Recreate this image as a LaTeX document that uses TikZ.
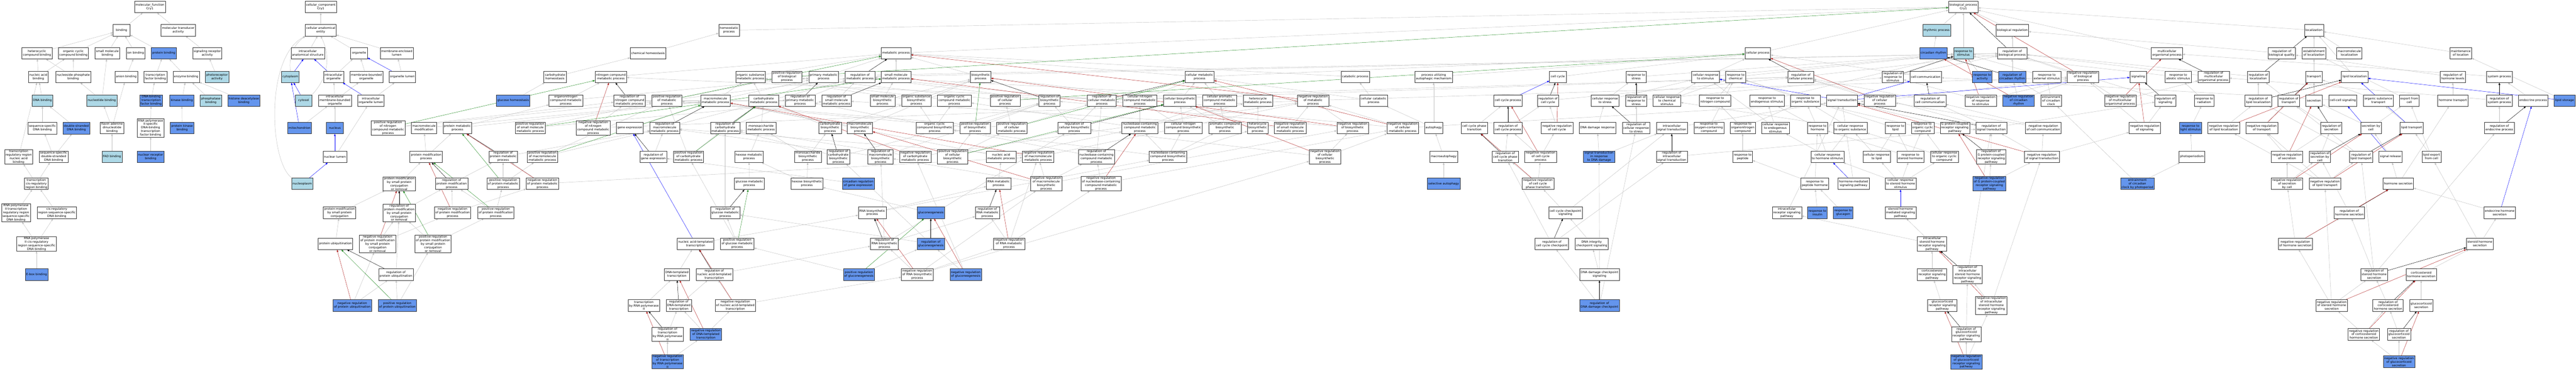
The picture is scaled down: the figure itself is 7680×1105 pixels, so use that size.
\documentclass[tikz,border=0pt]{standalone}
\usepackage{fontspec}
\setmainfont{DejaVu Sans}
\usetikzlibrary{arrows.meta}
\definecolor{lightb}{RGB}{173,216,230}
\definecolor{cornf}{RGB}{100,149,237}
\definecolor{edgegray}{RGB}{192,192,192}
\definecolor{redge}{RGB}{178,34,34}
\definecolor{gedge}{RGB}{34,139,34}
\pgfdeclarelayer{bg}
\pgfsetlayers{bg,main}
\tikzset{
 gon/.style={draw=black!80, line width=0.8pt, fill=white, font=\fontsize{9}{10.6}\selectfont, align=center, inner xsep=3pt, inner ysep=1.5pt, minimum height=34.5pt, minimum width=50pt},
 lbn/.style={gon, fill=lightb},
 cbn/.style={gon, fill=cornf},
 edg/.style={draw=edgegray, line width=0.7pt, -{Triangle[length=6.5pt,width=5pt]}},
 edk/.style={edg, draw=black},
 edr/.style={edg, draw=redge},
 edn/.style={edg, draw=gedge},
 edb/.style={edg, draw=blue},
 pan/.style={x=0.408163pt, y=-0.704722pt}
}
\begin{document}
\begin{tikzpicture}[x=1pt,y=-1pt]
\useasboundingbox (0,0) rectangle (7680,1105);
% ---------- panel 1
\begin{scope}[pan]
\node[gon] (mf) at (1095,29) {molecular\_function\\Cry1};
\node[gon] (binding) at (888,128) {binding};
\node[gon] (moltrans) at (1302,128) {molecular transducer\\activity};
\node[gon] (hetcyc) at (270,225) {heterocyclic\\compound binding};
\node[gon] (orgcyc) at (536,225) {organic cyclic\\compound binding};
\node[gon] (smallmol) at (784,225) {small molecule\\binding};
\node[gon] (ionbind) at (990,225) {ion binding};
\node[cbn] (protbind) at (1196,225) {protein binding};
\node[gon] (sigrec) at (1514,225) {signaling receptor\\activity};
\node[gon] (nucacid) at (280,325) {nucleic acid\\binding};
\node[gon] (nucphos) at (535,325) {nucleoside phosphate\\binding};
\node[gon] (anion) at (922,325) {anion binding};
\node[gon] (tfbind) at (1135,325) {transcription\\factor binding};
\node[gon] (enzyme) at (1360,325) {enzyme binding};
\node[lbn] (photorec) at (1585,325) {photoreceptor\\activity};
\node[lbn] (dnabind) at (310,425) {DNA binding};
\node[lbn] (nucleotide) at (744,425) {nucleotide binding};
\node[cbn] (dnabtf) at (1104,425) {DNA-binding\\transcription\\factor binding};
\node[cbn] (kinase) at (1328,425) {kinase binding};
\node[lbn] (phosphatase) at (1540,425) {phosphatase\\binding};
\node[gon] (seqdna) at (310,542) {sequence-specific\\DNA binding};
\node[cbn] (dsdna) at (558,542) {double-stranded\\DNA binding};
\node[gon] (fad) at (818,541) {flavin adenine\\dinucleotide\\binding};
\node[gon] (rnapol2tf) at (1100,541) {RNA polymerase\\II-specific\\DNA-binding\\transcription\\factor binding};
\node[cbn] (protkin) at (1330,541) {protein kinase\\binding};
\node[gon] (trreg) at (136,663) {transcription\\regulatory region\\nucleic acid\\binding};
\node[gon] (seqds) at (392,663) {sequence-specific\\double-stranded\\DNA binding};
\node[lbn] (fadbind) at (818,663) {FAD binding};
\node[cbn] (nucrec) at (1100,663) {nuclear receptor\\binding};
\node[gon] (tcis) at (265,777) {transcription\\cis-regulatory\\region binding};
\node[gon] (rnap2trr) at (117,900) {RNA polymerase\\II transcription\\regulatory region\\sequence-specific\\DNA binding};
\node[gon] (cisreg) at (415,900) {cis-regulatory\\region sequence-specific\\DNA binding};
\node[gon] (rnap2cis) at (267,1031) {RNA polymerase\\II cis-regulatory\\region sequence-specific\\DNA binding};
\node[cbn] (ebox) at (267,1161) {E-box binding};
\end{scope}
% ---------- panel 2
\begin{scope}[xshift=640pt,pan]
\node[cbn] (histone) at (213,425) {histone deacetylase\\binding};
\node[gon] (cc) at (775,29) {cellular\_component\\Cry1};
\node[gon] (cae) at (775,128) {cellular anatomical\\entity};
\node[gon] (ias) at (680,225) {intracellular\\anatomical structure};
\node[gon] (organelle) at (1055,225) {organelle};
\node[gon] (mel) at (1330,225) {membrane-enclosed\\lumen};
\node[lbn] (cytoplasm) at (553,325) {cytoplasm};
\node[gon] (intorg) at (868,325) {intracellular\\organelle};
\node[gon] (mbo) at (1108,325) {membrane-bounded\\organelle};
\node[gon] (orglumen) at (1371,325) {organelle lumen};
\node[lbn] (cytosol) at (650,425) {cytosol};
\node[gon] (imbo) at (878,425) {intracellular\\membrane-bounded\\organelle};
\node[gon] (iol) at (1141,425) {intracellular\\organelle lumen};
\node[cbn] (mito) at (620,541) {mitochondrion};
\node[cbn] (nucleus) at (878,541) {nucleus};
\node[gon] (posnit) at (1266,541) {positive regulation\\of nitrogen\\compound metabolic\\process};
\node[gon] (macromod) at (1529,541) {macromolecule\\modification};
\node[gon] (nuclumen) at (878,663) {nuclear lumen};
\node[gon] (protmodproc) at (1545,663) {protein modification\\process};
\node[lbn] (nucleoplasm) at (640,777) {nucleoplasm};
\node[gon] (pmsp) at (1348,777) {protein modification\\by small protein\\conjugation\\or removal};
\node[gon] (pmspc) at (912,900) {protein modification\\by small protein\\conjugation};
\node[gon] (regpmsp) at (1348,900) {regulation of\\protein modification\\by small protein\\conjugation\\or removal};
\node[gon] (protubi) at (882,1031) {protein ubiquitination};
\node[gon] (negpmsp) at (1190,1031) {negative regulation\\of protein modification\\by small protein\\conjugation\\or removal};
\node[gon] (pospmsp) at (1595,1031) {positive regulation\\of protein modification\\by small protein\\conjugation\\or removal};
\node[gon] (regubi) at (1324,1161) {regulation of\\protein ubiquitination};
\node[cbn] (negubi) at (1005,1292) {negative regulation\\of protein ubiquitination};
\node[cbn] (posubi) at (1334,1292) {positive regulation\\of protein ubiquitination};
\end{scope}
% ---------- panel 3
\begin{scope}[xshift=1280pt,pan]
\node[gon] (chemhomeo) at (1597,225) {chemical homeostasis};
\node[gon] (carbhomeo) at (918,325) {carbohydrate\\homeostasis};
\node[gon] (nitcomp) at (1326,325) {nitrogen compound\\metabolic process};
\node[cbn] (glucosehomeo) at (612,425) {glucose homeostasis};
\node[gon] (orgnit) at (997,425) {organonitrogen\\compound metabolic\\process};
\node[gon] (regnit) at (1462,425) {regulation of\\nitrogen compound\\metabolic process};
\node[gon] (protmeta) at (205,541) {protein metabolic\\process};
\node[gon] (possmall) at (737,541) {positive regulation\\of small molecule\\metabolic process};
\node[gon] (negnit) at (1197,541) {negative regulation\\of nitrogen\\compound metabolic\\process};
\node[gon] (geneexp) at (1465,541) {gene expression};
\node[gon] (regprotmeta) at (539,663) {regulation of\\protein metabolic\\process};
\node[gon] (posmacro) at (826,663) {positive regulation\\of macromolecule\\metabolic process};
\node[gon] (reggene) at (1636,663) {regulation of\\gene expression};
\node[gon] (regprotmod) at (163,777) {regulation of\\protein modification\\process};
\node[gon] (posprotmeta) at (539,777) {positive regulation\\of protein metabolic\\process};
\node[gon] (negprotmeta) at (826,777) {negative regulation\\of protein metabolic\\process};
\node[gon] (negprotmod) at (170,900) {negative regulation\\of protein modification\\process};
\node[gon] (posprotmod) at (486,900) {positive regulation\\of protein modification\\process};
\node[gon] (trpol2) at (1567,1292) {transcription\\by RNA polymerase\\II};
\end{scope}
% ---------- panel 4
\begin{scope}[xshift=1920pt,pan]
\node[gon] (homeo) at (621,128) {homeostatic\\process};
\node[gon] (orgsub) at (778,325) {organic substance\\metabolic process};
\node[gon] (posbio) at (1044,325) {positive regulation\\of biological\\process};
\node[gon] (primary) at (1312,325) {primary metabolic\\process};
\node[gon] (regmeta) at (1578,325) {regulation of\\metabolic process};
\node[gon] (posmeta) at (167,425) {positive regulation\\of metabolic\\process};
\node[gon] (macrometa) at (522,425) {macromolecule\\metabolic process};
\node[gon] (carbmeta) at (874,425) {carbohydrate\\metabolic process};
\node[gon] (regprim) at (1140,425) {regulation of\\primary metabolic\\process};
\node[gon] (regsmall) at (1406,425) {regulation of\\small molecule\\metabolic process};
\node[gon] (regmacro) at (151,541) {regulation of\\macromolecule\\metabolic process};
\node[gon] (regcarb) at (593,541) {regulation of\\carbohydrate\\metabolic process};
\node[gon] (monometa) at (855,541) {monosaccharide\\metabolic process};
\node[gon] (carbbio) at (1359,541) {carbohydrate\\biosynthetic\\process};
\node[gon] (macrobio) at (1577,541) {macromolecule\\biosynthetic\\process};
\node[gon] (poscarb) at (325,663) {positive regulation\\of carbohydrate\\metabolic process};
\node[gon] (hexmeta) at (767,663) {hexose metabolic\\process};
\node[gon] (monobio) at (1197,663) {monosaccharide\\biosynthetic\\process};
\node[gon] (regcarbbio) at (1420,663) {regulation of\\carbohydrate\\biosynthetic\\process};
\node[gon] (glucmeta) at (769,777) {glucose metabolic\\process};
\node[gon] (hexbio) at (1190,777) {hexose biosynthetic\\process};
\node[cbn] (circgene) at (1565,777) {circadian regulation\\of gene expression};
\node[gon] (regglucmeta) at (593,900) {regulation of\\glucose metabolic\\process};
\node[gon] (rnabio) at (1667,900) {RNA biosynthetic\\process};
\node[gon] (nuctrans) at (377,1031) {nucleic acid-templated\\transcription};
\node[gon] (posglucmeta) at (681,1031) {positive regulation\\of glucose metabolic\\process};
\node[gon] (dnatrans) at (240,1161) {DNA-templated\\transcription};
\node[gon] (regnuctrans) at (513,1161) {regulation of\\nucleic acid-templated\\transcription};
\node[cbn] (posgluco) at (1570,1161) {positive regulation\\of gluconeogenesis};
\node[gon] (regdnatrans) at (254,1292) {regulation of\\DNA-templated\\transcription};
\node[gon] (negnuctrans) at (667,1292) {negative regulation\\of nucleic acid-templated\\transcription};
\node[gon] (regtrpol2) at (172,1414) {regulation of\\transcription\\by RNA polymerase\\II};
\node[cbn] (negdnatrans) at (452,1414) {negative regulation\\of DNA-templated\\transcription};
\node[cbn] (negtrpol2) at (172,1530) {negative regulation\\of transcription\\by RNA polymerase\\II};
\end{scope}
% ---------- panel 5
\begin{scope}[xshift=2560pt,pan]
\node[gon] (metabolic) at (273,225) {metabolic process};
\node[gon] (smallmeta) at (273,325) {small molecule\\metabolic process};
\node[gon] (biosyn) at (891,325) {biosynthetic\\process};
\node[gon] (smallbio) at (174,425) {small molecule\\biosynthetic\\process};
\node[gon] (orgsubbio) at (421,425) {organic substance\\biosynthetic\\process};
\node[gon] (orgcycmeta) at (699,425) {organic cyclic\\compound metabolic\\process};
\node[gon] (poscell) at (1070,425) {positive regulation\\of cellular\\process};
\node[gon] (regbiosyn) at (1394,425) {regulation of\\biosynthetic\\process};
\node[gon] (orgcycbio) at (555,541) {organic cyclic\\compound biosynthetic\\process};
\node[gon] (posbiosyn) at (850,541) {positive regulation\\of biosynthetic\\process};
\node[gon] (poscellmeta) at (1118,541) {positive regulation\\of cellular\\metabolic process};
\node[gon] (regcellbio) at (1575,541) {regulation of\\cellular biosynthetic\\process};
\node[gon] (regmacrobio) at (160,663) {regulation of\\macromolecule\\biosynthetic\\process};
\node[gon] (negcarb) at (413,663) {negative regulation\\of carbohydrate\\metabolic process};
\node[gon] (poscellbio) at (686,663) {positive regulation\\of cellular\\biosynthetic\\process};
\node[gon] (nucacidmeta) at (1041,663) {nucleic acid\\metabolic process};
\node[gon] (negmacro) at (1311,663) {negative regulation\\of macromolecule\\metabolic process};
\node[gon] (rnameta) at (1022,777) {RNA metabolic\\process};
\node[gon] (negmacrobio) at (1370,777) {negative regulation\\of macromolecule\\biosynthetic\\process};
\node[cbn] (gluconeo) at (527,900) {gluconeogenesis};
\node[gon] (regrnameta) at (940,900) {regulation of\\RNA metabolic\\process};
\node[gon] (regrnabio) at (188,1031) {regulation of\\RNA biosynthetic\\process};
\node[cbn] (reggluco) at (527,1031) {regulation of\\gluconeogenesis};
\node[gon] (negrnameta) at (1098,1031) {negative regulation\\of RNA metabolic\\process};
\node[gon] (negrnabio) at (428,1161) {negative regulation\\of RNA biosynthetic\\process};
\node[cbn] (neggluco) at (782,1161) {negative regulation\\of gluconeogenesis};
\end{scope}
% ---------- panel 6
\begin{scope}[xshift=3200pt,pan]
\node[gon] (cellmeta) at (922,325) {cellular metabolic\\process};
\node[gon] (regcellmeta) at (208,425) {regulation of\\cellular metabolic\\process};
\node[gon] (cellnit) at (486,425) {cellular nitrogen\\compound metabolic\\process};
\node[gon] (cellbio) at (778,425) {cellular biosynthetic\\process};
\node[gon] (cellarom) at (1068,425) {cellular aromatic\\compound metabolic\\process};
\node[gon] (hetmeta) at (1348,425) {heterocycle\\metabolic process};
\node[gon] (nucbase) at (486,541) {nucleobase-containing\\compound metabolic\\process};
\node[gon] (cellnitbio) at (804,541) {cellular nitrogen\\compound biosynthetic\\process};
\node[gon] (arombio) at (1107,541) {aromatic compound\\biosynthetic\\process};
\node[gon] (hetbio) at (1346,541) {heterocycle\\biosynthetic\\process};
\node[gon] (negsmall) at (1584,541) {negative regulation\\of small molecule\\metabolic process};
\node[gon] (regnucbase) at (169,663) {regulation of\\nucleobase-containing\\compound metabolic\\process};
\node[gon] (nucbasebio) at (691,663) {nucleobase-containing\\compound biosynthetic\\process};
\node[gon] (negnucbase) at (202,777) {negative regulation\\of nucleobase-containing\\compound metabolic\\process};
\end{scope}
% ---------- panel 7
\begin{scope}[xshift=3840pt,pan]
\node[gon] (catabolic) at (491,325) {catabolic process};
\node[gon] (autophmech) at (1064,325) {process utilizing\\autophagic mechanism};
\node[gon] (negmeta) at (183,425) {negative regulation\\of metabolic\\process};
\node[gon] (cellcat) at (625,425) {cellular catabolic\\process};
\node[gon] (cellcycproc) at (1607,425) {cell cycle process};
\node[gon] (negbiosyn) at (472,541) {negative regulation\\of biosynthetic\\process};
\node[gon] (negcellmeta) at (838,541) {negative regulation\\of cellular\\metabolic process};
\node[gon] (autophagy) at (1064,541) {autophagy};
\node[gon] (ccpt) at (1361,541) {cell cycle phase\\transition};
\node[gon] (regccp) at (1607,541) {regulation of\\cell cycle process};
\node[gon] (negcellbio) at (270,663) {negative regulation\\of cellular\\biosynthetic\\process};
\node[gon] (macroauto) at (1137,663) {macroautophagy};
\node[gon] (regccpt) at (1587,663) {regulation of\\cell cycle phase\\transition};
\node[cbn] (selauto) at (1137,777) {selective autophagy};
\end{scope}
% ---------- panel 8
\begin{scope}[xshift=4480pt,pan]
\node[gon] (cellcycle) at (403,325) {cell cycle};
\node[gon] (respstress) at (975,325) {response to\\stress};
\node[gon] (cellrespstim) at (1482,325) {cellular response\\to stimulus};
\node[gon] (regcellcycle) at (331,425) {regulation of\\cell cycle};
\node[gon] (cellrespstress) at (748,425) {cellular response\\to stress};
\node[gon] (regrespstress) at (975,425) {regulation of\\response to\\stress};
\node[gon] (cellrespchem) at (1200,425) {cellular response\\to chemical\\stimulus};
\node[gon] (respnit) at (1552,425) {response to\\nitrogen compound};
\node[gon] (negcellcycle) at (397,541) {negative regulation\\of cell cycle};
\node[gon] (dnadamage) at (692,541) {DNA damage response};
\node[gon] (regcellrespstress) at (975,541) {regulation of\\cellular response\\to stress};
\node[gon] (intrasig) at (1235,541) {intracellular\\signal transduction};
\node[gon] (respoxy) at (1506,541) {response to\\oxygen-containing\\compound};
\node[gon] (negccp) at (277,663) {negative regulation\\of cell cycle\\process};
\node[cbn] (sigdna) at (704,663) {signal transduction\\in response\\to DNA damage};
\node[gon] (regintrasig) at (1235,663) {regulation of\\intracellular\\signal transduction};
\node[gon] (negccpt) at (258,777) {negative regulation\\of cell cycle\\phase transition};
\node[gon] (ccchk) at (458,900) {cell cycle checkpoint\\signaling};
\node[gon] (regccchk) at (359,1031) {regulation of\\cell cycle checkpoint};
\node[gon] (dnaint) at (650,1031) {DNA integrity\\checkpoint signaling};
\node[gon] (dnadmgchk) at (707,1161) {DNA damage checkpoint\\signaling};
\node[cbn] (regdnadmg) at (707,1292) {regulation of\\DNA damage checkpoint};
\end{scope}
% ---------- panel 9
\begin{scope}[xshift=5120pt,pan]
\node[gon] (cellproc) at (295,225) {cellular process};
\node[lbn] (rhythmic) at (1602,128) {rhythmic process};
\node[cbn] (circrhythm) at (1578,225) {circadian rhythm};
\node[gon] (respchem) at (133,325) {response to\\chemical};
\node[gon] (regcellproc) at (610,325) {regulation of\\cellular process};
\node[gon] (regrespstim) at (1282,325) {regulation of\\response to\\stimulus};
\node[gon] (cellcomm) at (1522,325) {cell communication};
\node[gon] (respendo) at (363,425) {response to\\endogenous stimulus};
\node[gon] (resporg) at (643,425) {response to\\organic substance};
\node[gon] (sigtrans) at (910,425) {signal transduction};
\node[gon] (negcellproc) at (1186,425) {negative regulation\\of cellular\\process};
\node[gon] (regcellcomm) at (1554,425) {regulation of\\cell communication};
\node[gon] (resporgnit) at (185,541) {response to\\organonitrogen\\compound};
\node[gon] (cellrespendo) at (424,541) {cellular response\\to endogenous\\stimulus};
\node[gon] (resphormone) at (732,541) {response to\\hormone};
\node[gon] (cellresporg) at (971,541) {cellular response\\to organic substance};
\node[gon] (resplipid) at (1300,541) {response to\\lipid};
\node[gon] (resporgcyc) at (1500,541) {response to\\organic cyclic\\compound};
\node[gon] (resppeptide) at (185,663) {response to\\peptide};
\node[gon] (cellresphorm) at (804,663) {cellular response\\to hormone stimulus};
\node[gon] (cellresplipid) at (1164,663) {cellular response\\to lipid};
\node[gon] (respsteroid) at (1410,663) {response to\\steroid hormone};
\node[gon] (cellresporgcyc) at (1658,663) {cellular response\\to organic cyclic\\compound};
\node[gon] (resppephorm) at (712,777) {response to\\peptide hormone};
\node[gon] (hormsig) at (995,777) {hormone-mediated\\signaling pathway};
\node[gon] (cellrespsteroid) at (1338,777) {cellular response\\to steroid hormone\\stimulus};
\node[gon] (intrarec) at (508,900) {intracellular\\receptor signaling\\pathway};
\node[cbn] (respinsulin) at (731,900) {response to\\insulin};
\node[cbn] (respglucagon) at (919,900) {response to\\glucagon};
\node[gon] (steroidsig) at (1338,900) {steroid hormone\\mediated signaling\\pathway};
\node[gon] (intrasteroid) at (1568,1031) {intracellular\\steroid hormone\\receptor signaling\\pathway};
\node[gon] (corticorec) at (1568,1161) {corticosteroid\\receptor signaling\\pathway};
\node[gon] (glucorec) at (1643,1292) {glucocorticoid\\receptor signaling\\pathway};
\end{scope}
% ---------- panel 10
\begin{scope}[xshift=5760pt,pan]
\node[gon] (bp) at (229,29) {biological\_process\\Cry1};
\node[gon] (bioreg) at (586,128) {biological regulation};
\node[lbn] (respstim) at (229,225) {response to\\stimulus};
\node[gon] (regbioproc) at (586,225) {regulation of\\biological process};
\node[cbn] (respactivity) at (367,325) {response to\\activity};
\node[cbn] (regcirc) at (586,325) {regulation of\\circadian rhythm};
\node[gon] (respext) at (838,325) {response to\\external stimulus};
\node[gon] (negbioproc) at (1103,325) {negative regulation\\of biological\\process};
\node[gon] (signaling) at (1506,325) {signaling};
\node[gon] (negresp) at (355,425) {negative regulation\\of response\\to stimulus};
\node[cbn] (negcirc) at (632,425) {negative regulation\\of circadian\\rhythm};
\node[gon] (entrain) at (870,425) {entrainment\\of circadian\\clock};
\node[gon] (negmulti) at (1375,425) {negative regulation\\of multicellular\\organismal process};
\node[gon] (gpcr) at (167,541) {G protein-coupled\\receptor signaling\\pathway};
\node[gon] (regsigtrans) at (433,541) {regulation of\\signal transduction};
\node[gon] (negcellcomm) at (813,541) {negative regulation\\of cell communication};
\node[gon] (negsignaling) at (1554,541) {negative regulation\\of signaling};
\node[gon] (reggpcr) at (432,663) {regulation of\\G protein-coupled\\receptor signaling\\pathway};
\node[gon] (negsigtrans) at (802,663) {negative regulation\\of signal transduction};
\node[cbn] (neggpcr) at (419,777) {negative regulation\\of G protein-coupled\\receptor signaling\\pathway};
\node[cbn] (entrainphoto) at (1500,777) {entrainment\\of circadian\\clock by photoperiod};
\node[gon] (regintrasteroid) at (259,1161) {regulation of\\intracellular\\steroid hormone\\receptor signaling\\pathway};
\node[gon] (negintrasteroid) at (433,1292) {negative regulation\\of intracellular\\steroid hormone\\receptor signaling\\pathway};
\node[gon] (regglucorec) at (250,1414) {regulation of\\glucocorticoid\\receptor signaling\\pathway};
\node[cbn] (negglucorec) at (250,1530) {negative regulation\\of glucocorticoid\\receptor signaling\\pathway};
\end{scope}
% ---------- panel 11
\begin{scope}[xshift=6400pt,pan]
\node[gon] (localization) at (1222,128) {localization};
\node[gon] (multicell) at (148,225) {multicellular\\organismal process};
\node[gon] (regbioqual) at (986,225) {regulation of\\biological quality};
\node[gon] (estloc) at (1222,225) {establishment\\of localization};
\node[gon] (macroloc) at (1480,225) {macromolecule\\localization};
\node[gon] (respabiotic) at (230,325) {response to\\abiotic stimulus};
\node[gon] (regmulti) at (489,325) {regulation of\\multicellular\\organismal process};
\node[gon] (regloc) at (815,325) {regulation of\\localization};
\node[gon] (transport) at (1222,325) {transport};
\node[gon] (lipidloc) at (1519,325) {lipid localization};
\node[gon] (regsignaling) at (136,425) {regulation of\\signaling};
\node[gon] (respradiation) at (420,425) {response to\\radiation};
\node[gon] (reglipidloc) at (815,425) {regulation of\\lipid localization};
\node[gon] (regtransport) at (1037,425) {regulation of\\transport};
\node[gon] (secretion) at (1222,425) {secretion};
\node[gon] (cellcellsig) at (1433,425) {cell-cell signaling};
\node[cbn] (resplight) at (320,541) {response to\\light stimulus};
\node[gon] (neglipidloc) at (563,541) {negative regulation\\of lipid localization};
\node[gon] (negtransport) at (841,541) {negative regulation\\of transport};
\node[gon] (regsecretion) at (1348,541) {regulation of\\secretion};
\node[gon] (secbycell) at (1638,541) {secretion by\\cell};
\node[gon] (photoperiodism) at (330,663) {photoperiodism};
\node[gon] (negsecretion) at (1025,663) {negative regulation\\of secretion};
\node[gon] (regsecbycell) at (1265,663) {regulation of\\secretion by\\cell};
\node[gon] (reglipidtrans) at (1566,663) {regulation of\\lipid transport};
\node[gon] (negsecbycell) at (1025,777) {negative regulation\\of secretion\\by cell};
\node[gon] (neglipidtrans) at (1302,777) {negative regulation\\of lipid transport};
\node[gon] (reghormsec) at (1480,900) {regulation of\\hormone secretion};
\node[gon] (neghormsec) at (1086,1031) {negative regulation\\of hormone secretion};
\node[gon] (regsteroidsec) at (1661,1161) {regulation of\\steroid hormone\\secretion};
\node[gon] (negsteroidsec) at (1351,1292) {negative regulation\\of steroid hormone\\secretion};
\node[gon] (negcortsec) at (1586,1414) {negative regulation\\of corticosteroid\\hormone secretion};
\end{scope}
% ---------- panel 12
\begin{scope}[xshift=7040pt,pan]
\node[gon] (maintloc) at (726,225) {maintenance\\of location};
\node[gon] (reghormlev) at (668,325) {regulation of\\hormone levels};
\node[gon] (sysproc) at (1008,325) {system process};
\node[gon] (orgsubtrans) at (124,425) {organic substance\\transport};
\node[gon] (export) at (350,425) {export from\\cell};
\node[gon] (hormtrans) at (668,425) {hormone transport};
\node[gon] (regsys) at (1008,425) {regulation of\\system process};
\node[gon] (endocrine) at (1255,425) {endocrine process};
\node[cbn] (lipidstorage) at (1484,425) {lipid storage};
\node[gon] (lipidtrans) at (367,541) {lipid transport};
\node[gon] (regendo) at (1008,541) {regulation of\\endocrine process};
\node[gon] (signalrel) at (213,663) {signal release};
\node[gon] (lipidexport) at (512,663) {lipid export\\from cell};
\node[gon] (hormsec) at (270,777) {hormone secretion};
\node[gon] (endohormsec) at (1010,900) {endocrine hormone\\secretion};
\node[gon] (steroidsec) at (865,1031) {steroid hormone\\secretion};
\node[gon] (corticosec) at (437,1161) {corticosteroid\\hormone secretion};
\node[gon] (regcorticosec) at (195,1292) {regulation of\\corticosteroid\\hormone secretion};
\node[gon] (glucosec) at (437,1292) {glucocorticoid\\secretion};
\node[gon] (regglucosec) at (275,1414) {regulation of\\glucocorticoid\\secretion};
\node[cbn] (negglucosec) at (275,1530) {negative regulation\\of glucocorticoid\\secretion};
\end{scope}
% ================= edges
\begin{pgfonlayer}{bg}
\fill[white] (0,0) rectangle (7680,1105);
% molecular function
\foreach \a/\b in {binding/mf, moltrans/mf, hetcyc/binding, orgcyc/binding, smallmol/binding, ionbind/binding, protbind/binding, sigrec/moltrans, nucacid/hetcyc, nucacid/orgcyc, nucphos/hetcyc, nucphos/orgcyc, anion/ionbind, tfbind/protbind, enzyme/protbind, photorec/sigrec, dnabind/nucacid, nucleotide/nucphos, nucleotide/smallmol, dnabtf/tfbind, kinase/enzyme, phosphatase/enzyme, histone/enzyme, seqdna/dnabind, dsdna/dnabind, fad/nucleotide, fad/anion, rnapol2tf/dnabtf, protkin/kinase, trreg/nucacid, seqds/seqdna, seqds/dsdna, fadbind/fad, nucrec/rnapol2tf, tcis/trreg, tcis/seqds, rnap2trr/tcis, cisreg/tcis, rnap2cis/rnap2trr, rnap2cis/cisreg, ebox/rnap2cis}
 \draw[edg] (\a) -- (\b);
% cellular component
\foreach \a/\b in {cae/cc, ias/cae, organelle/cae, mel/cae, intorg/organelle, mbo/organelle, orglumen/mel, imbo/intorg, imbo/mbo, iol/orglumen, mito/imbo, nucleus/imbo, nuclumen/iol}
 \draw[edg] (\a) -- (\b);
\draw[edg] (cytoplasm.north) to[bend left=30] (cae.south west);
\draw[edg] (cytosol.north east) to[bend right=35] (cae.south);
\draw[edg] (nucleoplasm.north west) .. controls (803,480) and (790,170) .. (cae.south west);
% biological process, general
\foreach \a/\b in {cellproc/bp, metabolic/bp, homeo/bp, bioreg/bp, respstim/bp, rhythmic/bp, localization/bp, multicell/bp, regbioproc/bioreg, circrhythm/rhythmic, regcirc/regbioproc, negcirc/regcirc, negcirc/negbioproc, respactivity/respstim, negresp/negbioproc, negresp/regrespstim, respext/respstim, entrain/regcirc, entrain/respext, entrainphoto/entrain, entrainphoto/photoperiodism, photoperiodism/resplight, resplight/respradiation, respradiation/respabiotic, respabiotic/respstim, negbioproc/regbioproc, negmulti/negbioproc, negmulti/regmulti, regmulti/regbioproc, negcellproc/negbioproc, negcellproc/regcellproc, regcellproc/regbioproc, poscell/posbio, poscell/regcellproc, posbio/regbioproc, cellcomm/cellproc, regcellcomm/regcellproc, negcellcomm/regcellcomm, negcellcomm/negcellproc, regsignaling/regbioproc, negsignaling/regsignaling, negsignaling/negbioproc, regsigtrans/regsignaling, regsigtrans/regcellcomm, regsigtrans/regcellproc, negsigtrans/regsigtrans, negsigtrans/negsignaling, negsigtrans/negcellcomm, gpcr/sigtrans, reggpcr/regsigtrans, neggpcr/reggpcr, neggpcr/negsigtrans, intrarec/sigtrans, intrasteroid/steroidsig, intrasteroid/intrarec, corticorec/intrasteroid, glucorec/corticorec, regintrasteroid/regsigtrans, negintrasteroid/regintrasteroid, negintrasteroid/negsigtrans, regglucorec/regintrasteroid, negglucorec/regglucorec, negglucorec/negintrasteroid}
 \draw[edg] (\a) -- (\b);
% responses, cell cycle
\foreach \a/\b in {respchem/respstim, cellrespstim/cellproc, cellrespstim/respstim, cellrespchem/respchem, cellrespchem/cellrespstim, respstress/respstim, regrespstress/regrespstim, cellrespstress/respstress, cellrespstress/cellrespstim, regcellrespstress/regrespstress, dnadamage/cellrespstress, sigdna/dnadamage, sigdna/intrasig, regdnadmg/regccchk, regdnadmg/regcellrespstress, dnadmgchk/dnaint, dnadmgchk/sigdna, dnaint/ccchk, ccchk/negccpt, ccchk/intrasig, regccchk/regccpt, regccchk/regintrasig, intrasig/sigtrans, regintrasig/regsigtrans, regrespstim/regbioproc, respendo/respstim, resporg/respchem, respnit/respchem, resporgnit/respnit, resporgnit/resporg, cellrespendo/respendo, cellrespendo/cellrespstim, resphormone/respendo, resphormone/resporg, cellresporg/resporg, cellresporg/cellrespchem, resplipid/respchem, resporgcyc/resporg, resppeptide/resporgnit, cellresphorm/resphormone, cellresphorm/cellresporg, cellresphorm/cellrespendo, cellresplipid/resplipid, cellresplipid/cellresporg, respsteroid/resplipid, respsteroid/resphormone, respsteroid/resporgcyc, cellresporgcyc/resporgcyc, cellresporgcyc/cellresporg, resppephorm/resphormone, resppephorm/resppeptide, hormsig/sigtrans, cellrespsteroid/cellresplipid, cellrespsteroid/respsteroid, cellrespsteroid/cellresphorm, cellrespsteroid/cellresporgcyc, respinsulin/resppephorm, respglucagon/resppephorm, respoxy/respchem, cellcycle/cellproc, ccpt/cellcycproc, negcellcycle/regcellcycle, negccp/regccp, negccp/negcellcycle, regccp/regcellcycle, regccpt/regccp, negccpt/regccpt, negccpt/negccp, regcellcycle/regcellproc, catabolic/metabolic, cellcat/catabolic, cellcat/cellmeta, autophagy/autophmech, autophagy/cellcat, macroauto/autophagy, selauto/macroauto, autophmech/cellproc}
 \draw[edg] (\a) -- (\b);
% localization, secretion
\foreach \a/\b in {estloc/localization, macroloc/localization, transport/estloc, lipidloc/localization, regloc/regbioproc, reglipidloc/regloc, regtransport/regloc, secretion/transport, cellcellsig/cellcomm, neglipidloc/reglipidloc, negtransport/regtransport, negsecretion/regsecretion, negsecretion/negtransport, regsecretion/regtransport, regsecbycell/regsecretion, negsecbycell/negsecretion, negsecbycell/regsecbycell, reglipidtrans/reglipidloc, reglipidtrans/regtransport, neglipidtrans/reglipidtrans, neglipidtrans/neglipidloc, neglipidtrans/negtransport, secbycell/secretion, secbycell/export, signalrel/secbycell, lipidtrans/orgsubtrans, lipidexport/lipidtrans, lipidexport/export, hormsec/signalrel, hormsec/hormtrans, hormtrans/reghormlev, reghormlev/regbioqual, regbioqual/bioreg, reghormsec/regsecbycell, neghormsec/reghormsec, neghormsec/negsecbycell, steroidsec/endohormsec, steroidsec/lipidexport, endohormsec/hormsec, endocrine/sysproc, regendo/regsys, regsys/regmulti, sysproc/multicell, maintloc/localization, lipidstorage/maintloc, regsteroidsec/reghormsec, regsteroidsec/reglipidtrans, regsteroidsec/regendo, negsteroidsec/regsteroidsec, negsteroidsec/neghormsec, negsteroidsec/neglipidtrans, corticosec/steroidsec, regcorticosec/regsteroidsec, negcortsec/regcorticosec, negcortsec/negsteroidsec, glucosec/corticosec, regglucosec/regcorticosec, negglucosec/regglucosec, negglucosec/negcortsec, orgsubtrans/transport, export/estloc, chemhomeo/homeo, carbhomeo/chemhomeo, glucosehomeo/carbhomeo}
 \draw[edg] (\a) -- (\b);
% metabolism
\foreach \a/\b in {cellmeta/metabolic, cellmeta/cellproc, smallmeta/metabolic, primary/metabolic, orgsub/metabolic, nitcomp/metabolic, macrometa/orgsub, macrometa/primary, carbmeta/primary, carbmeta/orgsub, biosyn/metabolic, orgsubbio/orgsub, orgsubbio/biosyn, smallbio/smallmeta, smallbio/biosyn, orgcycmeta/orgsub, orgcycbio/orgcycmeta, orgcycbio/orgsubbio, cellbio/biosyn, cellbio/cellmeta, macrobio/macrometa, macrobio/biosyn, carbbio/carbmeta, carbbio/orgsubbio, monometa/carbmeta, hexmeta/monometa, glucmeta/hexmeta, monobio/monometa, monobio/carbbio, hexbio/hexmeta, hexbio/monobio, gluconeo/hexbio, orgnit/nitcomp, orgnit/primary, protmeta/orgnit, protmeta/macrometa, protmodproc/protmeta, protmodproc/macromod, macromod/macrometa, pmsp/protmodproc, pmspc/pmsp, protubi/pmspc, regpmsp/regprotmod, negpmsp/regpmsp, negpmsp/negprotmod, pospmsp/regpmsp, pospmsp/posprotmod, regubi/regpmsp, negubi/negpmsp, negubi/regubi, posubi/regubi, posubi/pospmsp, cellnit/nitcomp, cellnit/cellmeta, cellarom/cellmeta, hetmeta/cellmeta, nucbase/cellarom, nucbase/cellnit, nucbase/hetmeta, nucbase/orgcycmeta, nucacidmeta/nucbase, nucacidmeta/macrometa, rnameta/nucacidmeta, cellnitbio/cellnit, cellnitbio/cellbio, arombio/cellarom, arombio/cellbio, hetbio/hetmeta, hetbio/cellbio, nucbasebio/nucbase, nucbasebio/cellnitbio, nucbasebio/arombio, nucbasebio/hetbio, nucbasebio/orgcycbio, geneexp/macrometa, rnabio/rnameta, rnabio/nucbasebio, nuctrans/rnabio, dnatrans/nuctrans, trpol2/dnatrans}
 \draw[edg] (\a) -- (\b);
\foreach \a/\b in {regmeta/regbioproc, posmeta/regmeta, posmeta/posbio, regprim/regmeta, regsmall/regmeta, negsmall/regsmall, negsmall/negmeta, possmall/regsmall, possmall/posmeta, regnit/regprim, posnit/regnit, posnit/posmeta, negnit/regnit, negnit/negmeta, regmacro/regmeta, posmacro/regmacro, posmacro/posmeta, negmacro/regmacro, negmacro/negmeta, regcarb/regprim, poscarb/regcarb, poscarb/posmeta, negcarb/regcarb, negcarb/negmeta, regcarbbio/regcarb, regcarbbio/regbiosyn, regglucmeta/regcarb, posglucmeta/regglucmeta, posglucmeta/poscarb, reggluco/regglucmeta, reggluco/regcarbbio, posgluco/reggluco, posgluco/posglucmeta, neggluco/reggluco, neggluco/negcarb, regbiosyn/regmeta, posbiosyn/regbiosyn, posbiosyn/posmeta, negbiosyn/regbiosyn, negbiosyn/negmeta, regcellbio/regbiosyn, regcellbio/regcellmeta, poscellbio/regcellbio, poscellbio/posbiosyn, poscellbio/poscellmeta, negcellbio/regcellbio, negcellbio/negbiosyn, negcellbio/negcellmeta, regcellmeta/regmeta, regcellmeta/regcellproc, poscellmeta/regcellmeta, poscellmeta/posmeta, poscellmeta/poscell, negcellmeta/regcellmeta, negcellmeta/negmeta, negcellmeta/negcellproc, negmeta/regmeta, negmeta/negbioproc, regmacrobio/regbiosyn, regmacrobio/regmacro, negmacrobio/regmacrobio, negmacrobio/negmacro, negmacrobio/negbiosyn, regnucbase/regcellmeta, regnucbase/regprim, negnucbase/regnucbase, negnucbase/negcellmeta, regrnameta/regnucbase, negrnameta/regrnameta, negrnameta/negnucbase, negrnameta/negmacro, regrnabio/regrnameta, regrnabio/regcellbio, regrnabio/regmacrobio, negrnabio/regrnabio, negrnabio/negrnameta, negrnabio/negmacrobio, negrnabio/negcellbio, reggene/regmacro, circgene/reggene, regnuctrans/regrnabio, negnuctrans/regnuctrans, negnuctrans/negrnabio, regdnatrans/regnuctrans, negdnatrans/regdnatrans, negdnatrans/negnuctrans, regtrpol2/regdnatrans, negtrpol2/regtrpol2, negtrpol2/negdnatrans, regprotmeta/regmacro, posprotmeta/regprotmeta, posprotmeta/posmacro, negprotmeta/regprotmeta, negprotmeta/negmacro, regprotmod/regprotmeta, posprotmod/regprotmod, posprotmod/posprotmeta, negprotmod/regprotmod, negprotmod/negprotmeta}
 \draw[edg] (\a) -- (\b);
% regulates (black)
\foreach \a/\b in {regbioproc/bp, regcirc/circrhythm, regcellproc/cellproc, regmulti/multicell, regrespstim/respstim, regcellcomm/cellcomm, regsignaling/signaling, regsigtrans/sigtrans, reggpcr/gpcr, regintrasteroid/intrasteroid, regglucorec/glucorec, regrespstress/respstress, regcellrespstress/cellrespstress, regdnadmg/dnadmgchk, regccchk/ccchk, regintrasig/intrasig, regccp/cellcycproc, regcellcycle/cellcycle, regccpt/ccpt, regloc/localization, reglipidloc/lipidloc, regtransport/transport, regsecretion/secretion, regsecbycell/secbycell, reglipidtrans/lipidtrans, reghormsec/hormsec, regsys/sysproc, regendo/endocrine, regsteroidsec/steroidsec, regcorticosec/corticosec, regglucosec/glucosec, regmeta/metabolic, regprim/primary, regsmall/smallmeta, regnit/nitcomp, regmacro/macrometa, regcarb/carbmeta, regcarbbio/carbbio, regglucmeta/glucmeta, reggluco/gluconeo, regbiosyn/biosyn, regcellbio/cellbio, regcellmeta/cellmeta, regmacrobio/macrobio, regnucbase/nucbase, regrnameta/rnameta, regrnabio/rnabio, reggene/geneexp, regnuctrans/nuctrans, regdnatrans/dnatrans, regtrpol2/trpol2, regprotmeta/protmeta, regprotmod/protmodproc, regpmsp/pmsp, regubi/protubi}
 \draw[edk] (\a) -- (\b);
% negatively regulates (red)
\foreach \a/\b in {negbioproc/bp, negcirc/circrhythm, negresp/respstim, negmulti/multicell, negcellproc/cellproc, negsigtrans/sigtrans, negsignaling/signaling, neggpcr/gpcr, negintrasteroid/intrasteroid, negglucorec/glucorec, negcellcycle/cellcycle, negccp/cellcycproc, negccpt/ccpt, neglipidloc/lipidloc, negtransport/transport, negsecretion/secretion, negsecbycell/secbycell, neglipidtrans/lipidtrans, neghormsec/hormsec, negsteroidsec/steroidsec, negcortsec/corticosec, negglucosec/glucosec, negmeta/metabolic, negsmall/smallmeta, negnit/nitcomp, negmacro/macrometa, negcarb/carbmeta, neggluco/gluconeo, negbiosyn/biosyn, negcellbio/cellbio, negcellmeta/cellmeta, negmacrobio/macrobio, negnucbase/nucbase, negrnameta/rnameta, negrnabio/rnabio, negnuctrans/nuctrans, negdnatrans/dnatrans, negtrpol2/trpol2, negprotmeta/protmeta, negprotmod/protmodproc, negpmsp/pmsp, negubi/protubi}
 \draw[edr] (\a) -- (\b);
% positively regulates (green)
\foreach \a/\b in {posbio/bp, posmeta/metabolic, possmall/smallmeta, posnit/nitcomp, posmacro/macrometa, poscarb/carbmeta, posglucmeta/glucmeta, posgluco/gluconeo, posbiosyn/biosyn, poscellbio/cellbio, poscellmeta/cellmeta, poscell/cellproc, posprotmeta/protmeta, posprotmod/protmodproc, pospmsp/pmsp, posubi/protubi}
 \draw[edn] (\a) -- (\b);
% part of (blue)
\foreach \a/\b in {cytoplasm/ias, intorg/ias, orglumen/organelle, cytosol/cytoplasm, iol/intorg, mito/cytoplasm, nuclumen/nucleus, nucleoplasm/nuclumen, nuctrans/geneexp, cellcycproc/cellcycle, sigtrans/cellrespstim, sigtrans/cellcomm, sigtrans/signaling, hormsig/cellresphorm, steroidsig/cellrespsteroid, signalrel/cellcellsig, lipidtrans/lipidloc, lipidstorage/lipidloc, endohormsec/endocrine}
 \draw[edb] (\a) -- (\b);
\end{pgfonlayer}
\end{tikzpicture}
\end{document}
